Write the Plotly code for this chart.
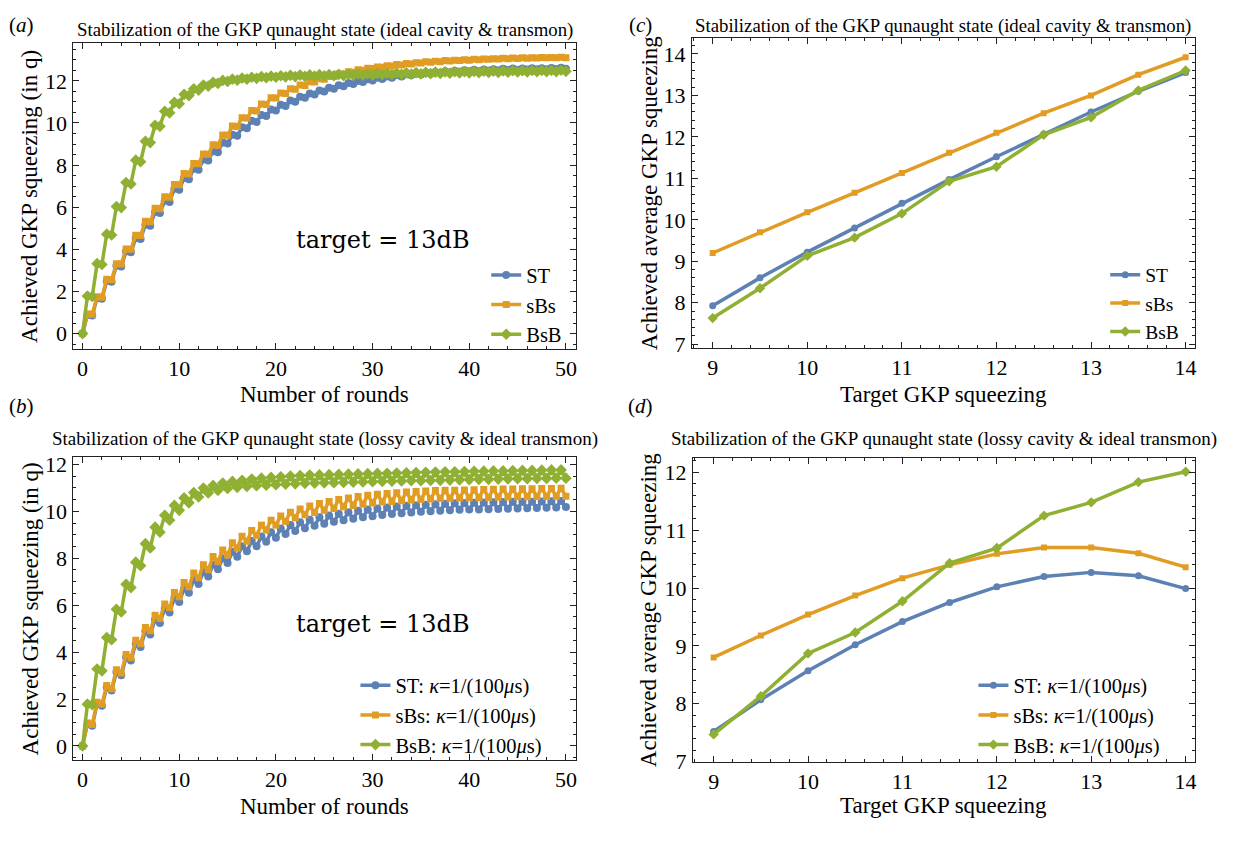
import plotly.graph_objects as go

PAGE_W, PAGE_H = 1239, 842
OFF = 8  # body margin of the html page
W, H = PAGE_W - 2 * OFF, PAGE_H - 2 * OFF
FONT = "Liberation Serif"
BLUE, ORANGE, GREEN = "#5E81B5", "#E19C24", "#8FB032"

# ---------------- data ----------------
# panels (a)/(b): value after the first half-round (n-0.5) and after the full round (n), n = 1..50
a_st_half = [0.88, 1.68, 2.5, 3.22, 3.9, 4.53, 5.17, 5.77, 6.3, 6.88, 7.38, 7.83, 8.27, 8.66, 9.07, 9.44, 9.8, 10.1, 10.38, 10.64,
             10.86, 11.06, 11.24, 11.4, 11.54, 11.67, 11.79, 11.9, 11.99, 12.07, 12.14, 12.2, 12.26, 12.31, 12.35, 12.39, 12.42, 12.45, 12.48, 12.5,
             12.52, 12.54, 12.55, 12.57, 12.58, 12.59, 12.6, 12.6, 12.61, 12.62]
a_st_full = [0.86, 1.65, 2.46, 3.18, 3.86, 4.49, 5.12, 5.72, 6.25, 6.83, 7.33, 7.78, 8.22, 8.61, 9.02, 9.39, 9.75, 10.05, 10.33, 10.59,
             10.81, 11.01, 11.19, 11.35, 11.49, 11.62, 11.74, 11.85, 11.94, 12.02, 12.09, 12.15, 12.21, 12.26, 12.3, 12.34, 12.37, 12.4, 12.43, 12.45,
             12.47, 12.49, 12.5, 12.52, 12.53, 12.54, 12.55, 12.55, 12.56, 12.57]
a_sbs_half = [0.93, 1.75, 2.58, 3.32, 4.02, 4.67, 5.33, 5.95, 6.49, 7.08, 7.6, 8.08, 8.53, 8.96, 9.43, 9.85, 10.25, 10.59, 10.9, 11.2,
              11.42, 11.62, 11.8, 11.96, 12.1, 12.22, 12.33, 12.43, 12.52, 12.6, 12.66, 12.72, 12.77, 12.82, 12.86, 12.9, 12.93, 12.96, 12.98, 13.0,
              13.02, 13.04, 13.05, 13.07, 13.08, 13.09, 13.1, 13.11, 13.11, 13.12]
a_sbs_full = [0.92, 1.73, 2.56, 3.3, 4.0, 4.65, 5.31, 5.93, 6.47, 7.06, 7.58, 8.06, 8.51, 8.94, 9.41, 9.83, 10.23, 10.57, 10.88, 11.18,
              11.4, 11.6, 11.78, 11.94, 12.08, 12.2, 12.31, 12.41, 12.5, 12.58, 12.64, 12.7, 12.75, 12.8, 12.84, 12.88, 12.91, 12.94, 12.96, 12.98,
              13.0, 13.02, 13.03, 13.05, 13.06, 13.07, 13.08, 13.09, 13.09, 13.1]
a_bsb_half = [1.78, 3.32, 4.72, 6.03, 7.17, 8.23, 9.13, 9.89, 10.55, 10.98, 11.36, 11.62, 11.8, 11.93, 12.02, 12.08, 12.13, 12.17, 12.2, 12.22,
              12.24, 12.26, 12.27, 12.28, 12.29, 12.3, 12.31, 12.32, 12.33, 12.34, 12.35, 12.36, 12.37, 12.38, 12.39, 12.4, 12.41, 12.42, 12.43, 12.44,
              12.45, 12.46, 12.46, 12.47, 12.48, 12.48, 12.49, 12.5, 12.5, 12.51]
a_bsb_full = [1.76, 3.28, 4.68, 5.98, 7.1, 8.16, 9.07, 9.84, 10.48, 10.91, 11.3, 11.56, 11.75, 11.88, 11.97, 12.03, 12.08, 12.12, 12.15, 12.17,
              12.19, 12.2, 12.21, 12.22, 12.23, 12.24, 12.25, 12.26, 12.27, 12.28, 12.29, 12.3, 12.31, 12.32, 12.33, 12.34, 12.35, 12.36, 12.37, 12.38,
              12.39, 12.4, 12.4, 12.41, 12.42, 12.42, 12.43, 12.44, 12.44, 12.45]

b_st_half = [0.93, 1.79, 2.5, 3.15, 3.78, 4.36, 4.89, 5.39, 5.85, 6.3, 6.7, 7.08, 7.41, 7.73, 8.0, 8.27, 8.51, 8.73, 8.93, 9.11,
             9.27, 9.41, 9.53, 9.64, 9.74, 9.82, 9.89, 9.96, 10.02, 10.07, 10.12, 10.16, 10.2, 10.23, 10.26, 10.28, 10.3, 10.32, 10.34, 10.35,
             10.36, 10.37, 10.38, 10.39, 10.4, 10.41, 10.41, 10.42, 10.43, 10.44]
b_st_full = [0.86, 1.71, 2.36, 3.01, 3.64, 4.22, 4.75, 5.24, 5.69, 6.13, 6.53, 6.9, 7.22, 7.53, 7.8, 8.06, 8.3, 8.51, 8.7, 8.87,
             9.03, 9.16, 9.28, 9.38, 9.47, 9.55, 9.62, 9.68, 9.74, 9.79, 9.84, 9.88, 9.92, 9.95, 9.98, 10.0, 10.02, 10.04, 10.06, 10.07,
             10.08, 10.09, 10.1, 10.11, 10.12, 10.13, 10.14, 10.15, 10.16, 10.18]
b_sbs_half = [0.98, 1.86, 2.58, 3.25, 3.9, 4.5, 5.05, 5.57, 6.05, 6.54, 6.96, 7.37, 7.72, 8.07, 8.35, 8.66, 8.94, 9.18, 9.41, 9.62,
              9.8, 9.96, 10.1, 10.22, 10.33, 10.42, 10.5, 10.57, 10.63, 10.68, 10.72, 10.76, 10.79, 10.82, 10.84, 10.86, 10.88, 10.89, 10.9, 10.91,
              10.92, 10.93, 10.94, 10.95, 10.95, 10.96, 10.96, 10.97, 10.97, 10.98]
b_sbs_full = [0.91, 1.78, 2.44, 3.11, 3.76, 4.36, 4.91, 5.43, 5.89, 6.36, 6.78, 7.17, 7.51, 7.86, 8.14, 8.44, 8.72, 8.97, 9.2, 9.41,
              9.57, 9.72, 9.85, 9.95, 10.04, 10.12, 10.19, 10.25, 10.3, 10.35, 10.39, 10.42, 10.45, 10.48, 10.5, 10.52, 10.54, 10.55, 10.56, 10.57,
              10.58, 10.59, 10.6, 10.61, 10.62, 10.62, 10.63, 10.63, 10.64, 10.64]
b_bsb_half = [1.78, 3.28, 4.62, 5.82, 6.89, 7.83, 8.62, 9.32, 9.83, 10.25, 10.57, 10.8, 10.99, 11.1, 11.2, 11.27, 11.32, 11.37, 11.41, 11.44,
              11.47, 11.5, 11.52, 11.54, 11.55, 11.56, 11.57, 11.58, 11.59, 11.6, 11.61, 11.62, 11.63, 11.64, 11.65, 11.66, 11.67, 11.68, 11.68, 11.69,
              11.7, 11.71, 11.72, 11.72, 11.73, 11.74, 11.74, 11.75, 11.76, 11.76]
b_bsb_full = [1.76, 3.2, 4.53, 5.71, 6.75, 7.68, 8.44, 9.11, 9.62, 10.04, 10.36, 10.61, 10.78, 10.89, 10.97, 11.02, 11.06, 11.09, 11.11, 11.13,
              11.15, 11.17, 11.19, 11.2, 11.21, 11.22, 11.23, 11.24, 11.25, 11.26, 11.27, 11.28, 11.29, 11.3, 11.3, 11.31, 11.32, 11.33, 11.34, 11.35,
              11.36, 11.36, 11.37, 11.38, 11.39, 11.39, 11.4, 11.4, 11.41, 11.41]

# panels (c)/(d)
targets = [9, 9.5, 10, 10.5, 11, 11.5, 12, 12.5, 13, 13.5, 14]
c_st = [7.93, 8.6, 9.22, 9.8, 10.4, 10.97, 11.52, 12.07, 12.6, 13.1, 13.55]
c_sbs = [9.2, 9.7, 10.18, 10.65, 11.13, 11.62, 12.1, 12.57, 13.0, 13.5, 13.92]
c_bsb = [7.63, 8.35, 9.13, 9.57, 10.15, 10.93, 11.28, 12.05, 12.47, 13.12, 13.6]
d_st = [7.52, 8.07, 8.57, 9.02, 9.42, 9.75, 10.02, 10.2, 10.27, 10.21, 9.99]
d_sbs = [8.8, 9.18, 9.54, 9.87, 10.17, 10.4, 10.59, 10.7, 10.7, 10.6, 10.36]
d_bsb = [7.47, 8.13, 8.87, 9.23, 9.77, 10.43, 10.69, 11.25, 11.48, 11.83, 12.01]

rounds = list(range(1, 51))
start_value = 0.0


def staircase(half, full):
    xs, ys = [0], [start_value]
    for n, h, f in zip(rounds, half, full):
        xs += [n - 0.5, n]
        ys += [h, f]
    return xs, ys


# page pixel -> paper fraction (the figure sits inside the page's body margin)
def fx(p):
    return (p - OFF) / W


def fy(p):
    return 1 - (p - OFF) / H


# ---------------- figure ----------------
fig = go.Figure()
styles = [("ST", BLUE, "circle", 8), ("sBs", ORANGE, "square", 7), ("BsB", GREEN, "diamond", 9)]
kappa = ": <i>κ</i>=1/(100<i>μ</i>s)"

panel_a = [(a_st_half, a_st_full), (a_sbs_half, a_sbs_full), (a_bsb_half, a_bsb_full)]
panel_b = [(b_st_half, b_st_full), (b_sbs_half, b_sbs_full), (b_bsb_half, b_bsb_full)]
panel_c = [c_st, c_sbs, c_bsb]
panel_d = [d_st, d_sbs, d_bsb]

for (name, col, sym, ms), (h, f) in zip(styles, panel_a):
    xs, ys = staircase(h, f)
    fig.add_trace(go.Scatter(x=xs, y=ys, name=name, mode="lines+markers", xaxis="x", yaxis="y",
                             line=dict(color=col, width=3.5), marker=dict(symbol=sym, size=ms, color=col),
                             legend="legend"))
for (name, col, sym, ms), (h, f) in zip(styles, panel_b):
    xs, ys = staircase(h, f)
    fig.add_trace(go.Scatter(x=xs, y=ys, name=name + kappa, mode="lines+markers", xaxis="x2", yaxis="y2",
                             line=dict(color=col, width=3.5), marker=dict(symbol=sym, size=ms, color=col),
                             legend="legend2"))
for (name, col, sym, ms), ys in zip(styles, panel_c):
    fig.add_trace(go.Scatter(x=targets, y=ys, name=name, mode="lines+markers", xaxis="x3", yaxis="y3",
                             line=dict(color=col, width=3.5), marker=dict(symbol=sym, size=ms - 1, color=col),
                             legend="legend3"))
for (name, col, sym, ms), ys in zip(styles, panel_d):
    fig.add_trace(go.Scatter(x=targets, y=ys, name=name + kappa, mode="lines+markers", xaxis="x4", yaxis="y4",
                             line=dict(color=col, width=3.5), marker=dict(symbol=sym, size=ms - 1, color=col),
                             legend="legend4"))


def axis(domain, rng, dtick, mdtick, anchor, standoff, tick0=0):
    return dict(domain=domain, range=rng, dtick=dtick, tick0=tick0, anchor=anchor,
                ticks="inside", ticklen=6, tickwidth=1, tickcolor="#222",
                showline=True, linecolor="#222", linewidth=1, mirror="ticks",
                showgrid=False, zeroline=False, fixedrange=True,
                ticklabelstandoff=standoff,
                tickfont=dict(family=FONT, size=22, color="black"),
                minor=dict(dtick=mdtick, tick0=tick0, ticks="inside", ticklen=3, tickwidth=1,
                           tickcolor="#222", showgrid=False))


A_X, A_Y = [fx(73.5), fx(577)], [fy(351), fy(39)]
B_X, B_Y = [fx(73.5), fx(577)], [fy(771.7), fy(461.7)]
C_X, C_Y = [fx(693), fx(1197)], [fy(350), fy(33.3)]
D_X, D_Y = [fx(694), fx(1197)], [fy(773.3), fy(462.7)]

fig.update_layout(
    width=W, height=H, margin=dict(l=0, r=0, t=0, b=0),
    paper_bgcolor="white", plot_bgcolor="white",
    font=dict(family=FONT, color="black"),
    xaxis=axis(A_X, [-0.95, 51.05], 10, 2, "y", 0),
    yaxis=axis(A_Y, [-0.71, 13.78], 2, 0.5, "x", 1),
    xaxis2=axis(B_X, [-0.95, 51.05], 10, 2, "y2", 0),
    yaxis2=axis(B_Y, [-0.6, 12.32], 2, 0.5, "x2", 1),
    xaxis3=axis(C_X, [8.78, 14.1], 1, 0.2, "y3", 0),
    yaxis3=axis(C_Y, [6.92, 14.39], 1, 0.2, "x3", 1),
    xaxis4=axis(D_X, [8.78, 14.1], 1, 0.2, "y4", 0),
    yaxis4=axis(D_Y, [7.0, 12.25], 1, 0.2, "x4", 1),
)


def leg(left, top, size):
    return dict(x=fx(left), y=fy(top), xanchor="left", yanchor="top", bgcolor="rgba(0,0,0,0)", borderwidth=0,
                font=dict(family=FONT, size=size, color="black"), itemwidth=30, tracegroupgap=0)


fig.update_layout(
    legend=leg(487, 255.5, 20.5),
    legend2=leg(356, 675, 20.5),
    legend3=leg(1107, 256, 19.5),
    legend4=leg(975, 675, 20.5),
)

ann = []
t_ideal = "Stabilization of the GKP qunaught state (ideal cavity &amp; transmon)"
t_lossy = "Stabilization of the GKP qunaught state (lossy cavity &amp; ideal transmon)"
for txt, cx, cy, sz in [(t_ideal, 325.3, 25, 18.8), (t_lossy, 325.7, 444, 19), (t_ideal, 945, 21, 18.8), (t_lossy, 946, 444, 19)]:
    ann.append(dict(text=txt, x=fx(cx), y=fy(cy), xref="paper", yref="paper", showarrow=False,
                    xanchor="center", yanchor="middle", font=dict(family=FONT, size=sz, color="black")))
for lab, cx, cy in [("a", 22, 20), ("b", 22, 410), ("c", 642, 20), ("d", 642, 410)]:
    ann.append(dict(text="(<i>%s</i>)" % lab, x=fx(cx), y=fy(cy), xref="paper", yref="paper", showarrow=False,
                    xanchor="center", yanchor="middle", font=dict(family=FONT, size=21, color="black")))
for txt, cx, cy in [("Number of rounds", 325.3, 398.5), ("Number of rounds", 325.3, 819),
                    ("Target GKP squeezing", 945, 397.5), ("Target GKP squeezing", 945.5, 818.5)]:
    ann.append(dict(text=txt, x=fx(cx), y=fy(cy), xref="paper", yref="paper", showarrow=False,
                    xanchor="center", yanchor="middle", font=dict(family=FONT, size=23, color="black")))
for txt, cx, cy in [("Achieved GKP squeezing (in q)", 30, 195), ("Achieved GKP squeezing (in q)", 30, 616.7),
                    ("Achieved average GKP squeezing", 650.5, 191.7), ("Achieved average GKP squeezing", 649.5, 618)]:
    ann.append(dict(text=txt, x=fx(cx), y=fy(cy), xref="paper", yref="paper", showarrow=False, textangle=-90,
                    xanchor="center", yanchor="middle", font=dict(family=FONT, size=23, color="black")))
for cx, cy in [(383.7, 240), (383.7, 633)]:
    ann.append(dict(text="target = 13dB", x=fx(cx), y=fy(cy), xref="paper", yref="paper", showarrow=False,
                    xanchor="center", yanchor="middle", font=dict(family="DejaVu Serif", size=24, color="black")))
fig.update_layout(annotations=ann)

fig.write_html("out.html")
